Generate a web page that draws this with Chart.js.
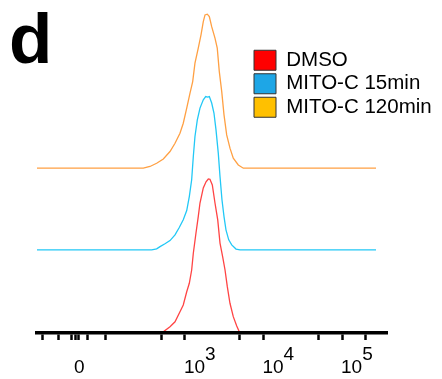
<!DOCTYPE html>
<html>
<head>
<meta charset="utf-8">
<script src="https://cdn.jsdelivr.net/npm/chart.js@4/dist/chart.umd.min.js"></script>
<style>
  html, body { margin: 0; padding: 0; background: #fff; }
  #wrap { width: 442px; height: 379px; position: relative; }
</style>
</head>
<body>
<div id="wrap"><canvas id="c"></canvas></div>
<script>
// ---- Data (x = log10 fluorescence on the display axis, y = % of mode) ----
const seriesLabels = ['DMSO', 'MITO-C 15min', 'MITO-C 120min'];

const dmsoX = [1.115, 2.724, 2.809, 2.873, 2.936, 2.978, 3.022, 3.055, 3.085, 3.106, 3.140, 3.169, 3.191, 3.233, 3.268, 3.297, 3.318, 3.348, 3.382, 3.417, 3.446, 3.480, 3.510, 3.539, 3.573, 3.615, 3.659, 3.692, 5.433];
const dmsoY = [0, 0.8, 4.1, 7.3, 13.8, 18.2, 26.8, 32.3, 40.9, 51.8, 64.9, 75.5, 84.4, 94.2, 98.2, 100, 99.8, 96.1, 84.4, 73.4, 58.4, 49.5, 40.9, 30.1, 19.3, 10.6, 4.5, 0.8, 0];

const mito15X = [1.115, 2.576, 2.639, 2.682, 2.745, 2.809, 2.873, 2.927, 2.978, 3.022, 3.055, 3.085, 3.106, 3.127, 3.157, 3.191, 3.233, 3.264, 3.289, 3.310, 3.340, 3.369, 3.395, 3.424, 3.446, 3.471, 3.497, 3.522, 3.557, 3.595, 3.650, 3.701, 5.433];
const mito15Y = [0, 0, 0.6, 2.1, 3.9, 6.0, 9.7, 14.5, 19.5, 25.5, 34.6, 45.5, 60.6, 73.6, 84.4, 92.0, 97.4, 99.5, 99.2, 99.5, 95.3, 88.8, 77.9, 62.8, 47.6, 32.5, 21.6, 13.0, 6.5, 3.2, 0.5, 0, 0];

const mito120X = [1.115, 2.469, 2.554, 2.639, 2.724, 2.809, 2.873, 2.936, 2.978, 3.022, 3.064, 3.098, 3.127, 3.169, 3.204, 3.233, 3.255, 3.284, 3.310, 3.340, 3.382, 3.411, 3.437, 3.468, 3.497, 3.531, 3.573, 3.615, 3.679, 3.743, 5.433];
const mito120Y = [0, 0, 1.1, 3.2, 6.0, 10.8, 16.2, 22.7, 29.2, 39.0, 48.7, 56.2, 68.2, 77.9, 86.6, 95.2, 99.5, 100, 98.4, 91.9, 84.4, 77.9, 62.7, 49.7, 34.6, 21.6, 13.0, 6.5, 2.1, 0, 0];

// vertical stacking offsets of the overlay (in % of mode units)
const seriesOffsets = [0, 54, 107];

// axis ticks (display positions) and their labels
const tickValues = [1.19, 1.395, 1.56, 1.60, 1.64, 1.76, 1.99, 2.70, 3, 3.70, 4, 4.70, 5, 5.30];
const tickLabels = ['', '', '', '0', '', '', '', '', '3', '', '4', '', '5', ''];

const lineColors = ['#ff4444', '#22c8f6', '#ffa043'];
const legendColors = ['#ff0000', '#1ea6e6', '#ffc000'];

const FONT = "'Liberation Sans', Arial, Helvetica, sans-serif";

const xs = [dmsoX, mito15X, mito120X];
const ys = [dmsoY, mito15Y, mito120Y];

const datasets = seriesLabels.map((label, i) => ({
  label,
  data: xs[i].map((x, j) => ({ x, y: ys[i][j] + seriesOffsets[i] })),
  borderColor: lineColors[i],
  backgroundColor: legendColors[i],
  borderWidth: 1.3,
  pointRadius: 0,
  tension: 0,
  fill: false
}));

const legendPlacer = {
  id: 'legendPlacer',
  afterLayout(chart) {
    const lg = chart.legend;
    if (!lg) return;
    const w = lg.width, h = lg.height;
    lg.left = 251; lg.top = 47;
    lg.right = lg.left + w; lg.bottom = lg.top + h;
  }
};

const panelLetter = {
  id: 'panelLetter',
  afterDraw(chart) {
    const ctx = chart.ctx;
    ctx.save();
    ctx.fillStyle = '#000';
    ctx.font = 'bold 71px ' + FONT;
    ctx.textBaseline = 'alphabetic';
    ctx.textAlign = 'left';
    ctx.fillText('d', 9, 63);
    ctx.restore();
  }
};

new Chart(document.getElementById('c'), {
  type: 'line',
  data: { datasets },
  options: {
    responsive: true,
    maintainAspectRatio: false,
    animation: false,
    layout: { padding: { left: 37, right: 55, top: 10, bottom: 0 } },
    plugins: {
      tooltip: { enabled: false },
      title: { display: false },
      legend: {
        display: true,
        position: 'chartArea',
        align: 'start',
        labels: {
          boxWidth: 22,
          boxHeight: 20,
          padding: 3,
          color: '#000',
          font: { family: FONT, size: 20.5, lineHeight: 1 },
          generateLabels: (chart) => chart.data.datasets.map((ds, i) => ({
            text: ds.label,
            fillStyle: legendColors[i],
            strokeStyle: '#333',
            lineWidth: 1,
            hidden: false,
            datasetIndex: i
          }))
        }
      }
    },
    scales: {
      x: {
        type: 'linear',
        z: 1,
        min: 1.115,
        max: 5.573,
        afterBuildTicks: (scale) => { scale.ticks = tickValues.map(v => ({ value: v })); },
        afterFit: (scale) => { scale.height = 46; },
        border: { display: true, color: '#000', width: 3.5, z: 1 },
        grid: { display: true, drawOnChartArea: false, drawTicks: true, tickLength: 7, color: '#000', tickWidth: 2.5, z: 1 },
        ticks: {
          autoSkip: false,
          maxRotation: 0,
          minRotation: 0,
          align: 'start',
          padding: 9,
          labelOffset: -1,
          color: '#000',
          font: { family: FONT, size: 19, lineHeight: 0.65 },
          callback: (v, i) => {
            const t = tickLabels[i];
            if (t === '') return '';
            if (t === '0') return ['', '0'];
            return ['    ' + t, '10'];
          }
        }
      },
      y: {
        type: 'linear',
        display: false,
        min: 0,
        max: 209.7
      }
    }
  },
  plugins: [legendPlacer, panelLetter]
});
</script>
</body>
</html>
